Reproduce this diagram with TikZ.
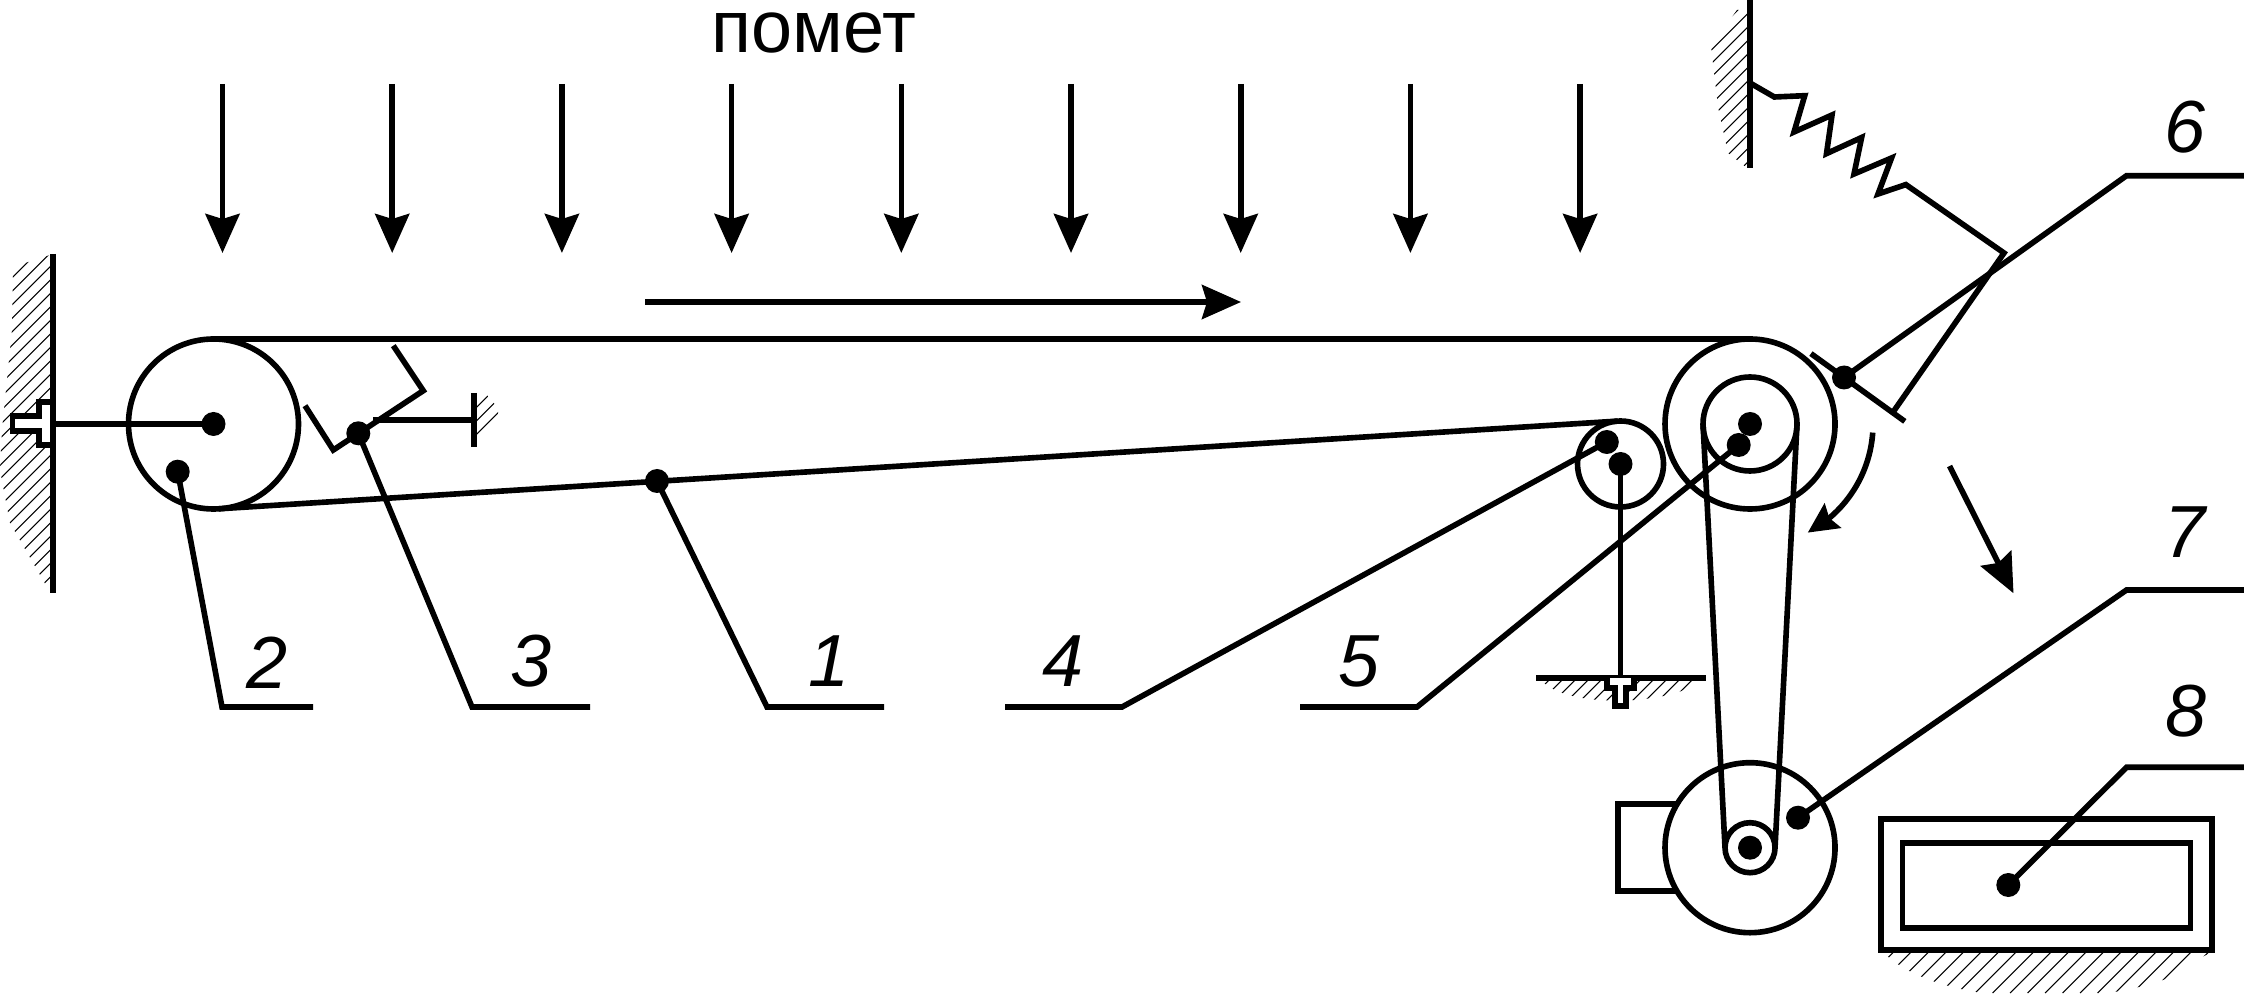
\documentclass[tikz,border=0pt]{standalone}
\usepackage{fontspec}
\setmainfont{Liberation Sans}
\usetikzlibrary{arrows.meta,bending}
\tikzset{
	bigarrow/.style = {-{Stealth[length=3.9mm, width=3.4mm, inset=0.5mm]}},
	smallarrow/.style = {-{Stealth[length=3mm, width=2.9mm, inset=0.4mm, flex]}},
	hatchline/.style = {line width=0.3pt},
	numlabel/.style = {font=\fontsize{21}{25}\selectfont\itshape, inner sep=0pt},
}
\newcommand{\hatchfill}[2]{
	\begin{scope}
		\clip #2;
		\foreach \k in {0,...,240} \draw[hatchline] ({-10+\k*#1},0) -- ++(11,11);
	\end{scope}
}
\begin{document}
\begin{tikzpicture}[line width=1.6pt]
	\useasboundingbox (0,0) rectangle (22.44,9.93);
	\coordinate (pulleyL) at (2.135,5.69);
	\coordinate (pulleyR) at (17.5,5.69);
	\coordinate (pulleyS) at (16.205,5.29);
	\coordinate (motor) at (17.5,1.453);
	\coordinate (pin2) at (1.777,5.213);
	\coordinate (pin3) at (3.583,5.597);
	\coordinate (pin1) at (6.57,5.12);
	\coordinate (pin4) at (16.068,5.51);
	\coordinate (pin5) at (17.387,5.48);
	\coordinate (pin6) at (18.44,6.155);
	\coordinate (pin7) at (17.98,1.753);
	\coordinate (pin8) at (20.083,1.08);

	% hatching
	\hatchfill{0.135}{(0.5,7.38) -- (0.13,7.26) -- (0.12,6.63) -- (0.02,5.63) -- (0,5.23) -- (0.1,4.7) -- (0.47,4.06) -- (0.5,4.06) -- cycle}
	\hatchfill{0.135}{(4.77,5.5) -- (4.98,5.72) -- (4.98,5.85) -- (4.87,5.98) -- (4.77,5.98) -- cycle}
	\hatchfill{0.135}{(17.47,9.83) -- (17.37,9.83) -- (17.11,9.47) -- (17.18,8.86) -- (17.28,8.4) -- (17.47,8.25) -- cycle}
	\hatchfill{0.13}{(15.42,3.12) -- (16.98,3.12) .. controls (16.8,2.9) and (15.7,2.82) .. (15.42,3.12)}
	\hatchfill{0.175}{(18.84,0.4) -- (22.1,0.4) -- (22.02,0.36) .. controls (21.6,-0.12) and (19.5,-0.25) .. (18.84,0.4)}

	% walls
	\draw (0.527,7.39) -- (0.527,4);
	\draw (4.737,6) -- (4.737,5.463);
	\draw (17.5,9.93) -- (17.5,8.25);
	\draw (15.36,3.15) -- (17.055,3.15);
	\draw[fill=white] (0.125,5.773) -- (0.39,5.773) -- (0.39,5.907) -- (0.527,5.907) -- (0.527,5.483) -- (0.39,5.483) -- (0.39,5.617) -- (0.125,5.617) -- cycle;
	\draw[fill=white] (16.07,3.15) -- (16.07,3.05) -- (16.15,3.05) -- (16.15,2.87) -- (16.26,2.87) -- (16.26,3.05) -- (16.34,3.05) -- (16.34,3.15);

	% load arrows
	\foreach \i in {0,...,8} \draw[bigarrow] ({2.225+\i*1.697},9.09) -- ({2.225+\i*1.697},7.4);
	\draw[bigarrow] (6.45,6.91) -- (12.41,6.91);
	\draw[bigarrow] (19.495,5.27) -- (20.135,3.997);
	\draw[smallarrow] (18.727,5.604) arc[start angle=-4, end angle=-62, radius=1.23];

	% belt and pulleys
	\draw (pulleyL) circle (0.85);
	\draw (pulleyR) circle (0.85);
	\draw (pulleyR) circle (0.47);
	\draw (pulleyS) circle (0.43);
	\draw (2.135,6.54) -- (17.5,6.54);
	\draw (2.188,4.842) -- (16.178,5.719);
	\draw (0.527,5.69) -- (pulleyL);
	\draw (pulleyS) -- (16.205,3.15);

	% scraper 3
	\draw (3.05,5.873) -- (3.333,5.43) -- (4.233,6.023) -- (3.933,6.473);
	\draw (3.73,5.727) -- (4.737,5.727);

	% spring and scraper 6
	\draw (17.5,9.1) -- (17.743,8.96) -- (18.047,8.973) -- (17.94,8.61) -- (18.32,8.78) -- (18.265,8.394) -- (18.616,8.555) -- (18.54,8.19) -- (18.915,8.35) -- (18.78,7.99) -- (19.058,8.084) -- (20.04,7.4) -- (18.94,5.823);
	\draw (18.109,6.394) -- (19.048,5.716);

	% motor and drive belt
	\draw (16.177,1.887) rectangle (17,1.023);
	\draw[fill=white] (motor) circle (0.85);
	\draw (motor) circle (0.25);
	\draw (17.03,5.69) -- (17.25,1.453);
	\draw (17.97,5.69) -- (17.75,1.453);

	% box 8
	\draw (18.81,1.737) rectangle (22.12,0.43);
	\draw (19.025,1.503) rectangle (21.905,0.653);

	% leaders
	\draw (pin2) -- (2.22,2.86) -- (3.13,2.86);
	\draw (pin3) -- (4.72,2.86) -- (5.9,2.86);
	\draw (pin1) -- (7.67,2.86) -- (8.84,2.86);
	\draw (pin4) -- (11.22,2.86) -- (10.05,2.86);
	\draw (pin5) -- (14.17,2.86) -- (13,2.86);
	\draw (pin6) -- (21.265,8.173) -- (22.44,8.173);
	\draw (pin7) -- (21.265,4.03) -- (22.44,4.03);
	\draw (pin8) -- (21.265,2.257) -- (22.44,2.257);

	\foreach \p in {pulleyL,pulleyR,pulleyS,motor,pin1,pin2,pin3,pin4,pin5,pin6,pin7,pin8}
		\fill (\p) circle (0.12);

	\node[font=\fontsize{21}{25}\selectfont, inner sep=0pt] (title) at (8.14,9.595) {помет};
	\node[numlabel] (num1) at (8.29,3.32) {1};
	\node[numlabel] (num2) at (2.67,3.3) {2};
	\node[numlabel] (num3) at (5.31,3.32) {3};
	\node[numlabel] (num4) at (10.63,3.32) {4};
	\node[numlabel] (num5) at (13.59,3.32) {5};
	\node[numlabel] (num6) at (21.85,8.655) {6};
	\node[numlabel] (num7) at (21.85,4.61) {7};
	\node[numlabel] (num8) at (21.86,2.82) {8};
\end{tikzpicture}
\end{document}
